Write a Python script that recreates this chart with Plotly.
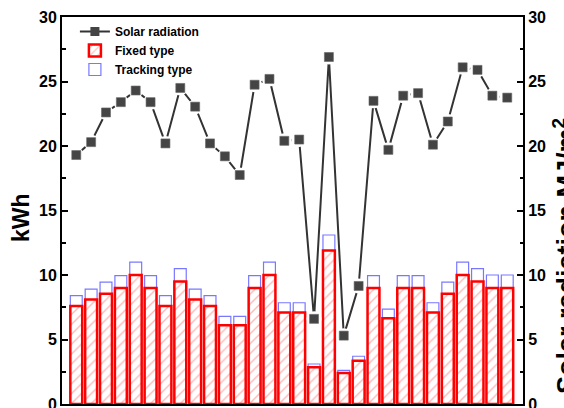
import plotly.graph_objects as go

days = list(range(1, 31))
solar = [19.3, 20.3, 22.6, 23.4, 24.3, 23.4, 20.2, 24.5, 23.05, 20.2,
         19.2, 17.75, 24.75, 25.2, 20.4, 20.5, 6.6, 26.9, 5.3, 9.15,
         23.5, 19.7, 23.9, 24.1, 20.1, 21.9, 26.1, 25.9, 23.9, 23.75]
fixed = [7.6, 8.1, 8.55, 9.0, 10.0, 9.0, 7.6, 9.5, 8.1, 7.6,
         6.1, 6.1, 9.0, 10.0, 7.1, 7.1, 2.85, 11.9, 2.4, 3.35,
         9.0, 6.65, 9.0, 9.0, 7.1, 8.55, 10.0, 9.5, 9.0, 9.0]
tracking = [8.4, 8.9, 9.45, 9.95, 11.0, 9.95, 8.4, 10.5, 8.9, 8.4,
            6.8, 6.8, 9.95, 11.0, 7.85, 7.85, 3.1, 13.1, 2.6, 3.7,
            9.95, 7.35, 9.95, 9.95, 7.85, 9.45, 11.0, 10.5, 10.0, 10.0]
yticks = [0, 5, 10, 15, 20, 25, 30]

FONT = "Liberation Sans, Arial, sans-serif"
BAR_W = 0.8

fig = go.Figure()

fig.add_trace(go.Bar(
    x=days, y=tracking, name="Tracking type", width=BAR_W,
    marker=dict(color="rgba(255,255,255,0)", line=dict(color="#7878ff", width=1.2)),
    legendrank=3,
))
fig.add_trace(go.Bar(
    x=days, y=fixed, name="Fixed type", width=BAR_W,
    marker=dict(color="white", line=dict(color="#ff0000", width=2.5),
                pattern=dict(shape="/", fgcolor="#ff7070", bgcolor="white",
                             size=7, solidity=0.2)),
    legendrank=2,
))
fig.add_trace(go.Scatter(
    x=days, y=solar, name="Solar radiation", yaxis="y2",
    mode="lines+markers",
    line=dict(color="#333333", width=2),
    marker=dict(symbol="square", size=9, color="#444444"),
    legendrank=1,
))
# white halo to create the gap between line and markers
fig.add_trace(go.Scatter(
    x=days, y=solar, yaxis="y2", mode="markers", showlegend=False,
    hoverinfo="skip",
    marker=dict(symbol="circle", size=15, color="white"),
))
fig.add_trace(go.Scatter(
    x=days, y=solar, yaxis="y2", mode="markers", showlegend=False,
    marker=dict(symbol="square", size=9, color="#444444",
                line=dict(color="#666666", width=0.6)),
))

axis_common = dict(
    range=[0, 30], tickvals=yticks, ticks="inside", ticklen=6, tickwidth=2,
    tickcolor="black", showline=True, linewidth=2, linecolor="black",
    showgrid=False, zeroline=False, automargin=False, ticklabeloverflow="allow",
    tickfont=dict(family=FONT, size=16, color="black", weight="bold"),
    minor=dict(ticks="inside", ticklen=3.5, tickwidth=1.5, tickcolor="black",
               dtick=2.5, tick0=0, showgrid=False),
)

fig.update_layout(
    width=564, height=408,
    margin=dict(l=62, r=41, t=17, b=4),
    paper_bgcolor="white", plot_bgcolor="white",
    barmode="overlay",
    xaxis=dict(range=[0.04, 31.06], showline=True, mirror=True, linewidth=2,
               linecolor="black", showgrid=False, zeroline=False,
               showticklabels=False, ticks="", automargin=False),
    yaxis=dict(**axis_common),
    yaxis2=dict(**axis_common, overlaying="y", side="right"),
    legend=dict(x=0.028, y=1.0, xanchor="left", yanchor="top",
                bgcolor="rgba(0,0,0,0)", borderwidth=0,
                font=dict(family=FONT, size=12, color="black", weight="bold"),
                tracegroupgap=0),
    showlegend=True,
    annotations=[
        dict(text="kWh", xref="paper", yref="paper",
             x=(21 - 62) / 461, y=(404 - 218) / 387,
             xanchor="center", yanchor="middle", textangle=-90, showarrow=False,
             font=dict(family=FONT, size=23, color="black", weight="bold")),
        dict(text="Solar radiation MJ/m<sup>2</sup>", xref="paper", yref="paper",
             x=(565 - 62) / 461, y=(404 - 256) / 387,
             xanchor="center", yanchor="middle", textangle=-90, showarrow=False,
             font=dict(family=FONT, size=27, color="black", weight="bold")),
    ],
)

fig.write_html("out.html", config={"displayModeBar": False},
               post_script="document.body.style.margin='0';")
